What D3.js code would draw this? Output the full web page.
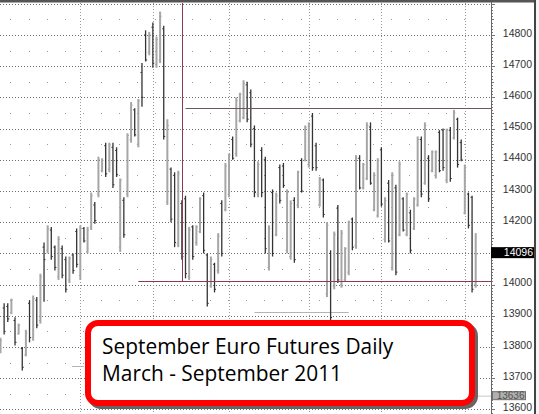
<!DOCTYPE html>
<html lang="en">
<head>
<meta charset="UTF-8">
<title>September Euro Futures Daily</title>
<script src="https://cdn.jsdelivr.net/npm/d3@7"></script>
<style>
  body{ margin:0; background:#fff; }
  svg{ display:block; }
  .grid-h{ stroke:#6e6e6e; stroke-dasharray:1,2; shape-rendering:crispEdges; }
  .grid-v{ stroke:#9a9a9a; stroke-dasharray:1,2; shape-rendering:crispEdges; }
  .half-dot{ fill:#9a9a9a; }
  .bar-up{ stroke:#a6a6a6; stroke-width:2; }
  .bar-down{ stroke:#333; stroke-width:1.3; }
  .axis-text{ font-family:"Liberation Sans", Arial, sans-serif; font-size:10.5px; fill:#333; }
  .title-text{ font-family:"Open Sans", sans-serif; font-size:20.9px; fill:#000; }
</style>
</head>
<body>
<div id="root"></div>
<script>
// daily bars, March - September 2011
const opens = [13790,13925,13930,13910,13885,13842,13795,13775,13940,13830,
  13950,13885,14120,14110,14175,14120,14025,14115,14080,14015,
  14095,14170,14030,14180,14105,14185,14255,14290,14365,14445,
  14370,14440,14430,14120,14270,14290,14465,14560,14450,14680,
  14800,14745,14825,14705,14720,14820,14265,14370,14350,14130,
  14260,14275,14025,14185,14135,14170,14285,14095,13995,14065,
  14045,14260,14240,14290,14465,14420,14525,14535,14640,14615,
  14500,14290,14430,14400,14055,14295,14160,14375,14380,14110,
  14090,14270,14255,14398,14400,14385,14540,14445,14255,14335,
  13970,14100,13995,14245,14000,14015,14040,14210,14125,14405,
  14310,14340,14505,14240,14220,14432,14145,14325,14055,14310,
  14160,14275,14160,14230,14180,14255,14465,14325,14405,14365,
  14350,14488,14495,14335,14495,14470,14530,14455,14230,14290,
  14280,14000]
const highs = [13830,13940,13940,13955,13895,13875,13800,13855,13950,13965,
  13960,14035,14135,14190,14185,14125,14155,14125,14090,14090,
  14100,14180,14190,14185,14185,14295,14265,14410,14405,14455,
  14455,14455,14440,14340,14280,14485,14585,14565,14595,14710,
  14815,14810,14840,14795,14875,14830,14530,14375,14360,14365,
  14270,14285,14185,14190,14190,14280,14295,14100,14090,14070,
  14165,14270,14390,14420,14475,14600,14615,14655,14650,14625,
  14510,14395,14440,14410,14190,14305,14295,14385,14390,14305,
  14270,14280,14365,14405,14510,14520,14550,14455,14345,14340,
  14200,14110,14170,14255,14175,14120,14205,14215,14415,14415,
  14390,14520,14520,14360,14405,14440,14280,14335,14360,14320,
  14395,14280,14295,14240,14280,14475,14475,14520,14415,14430,
  14430,14495,14500,14500,14505,14560,14535,14465,14385,14295,
  14285,14165]
const lows = [13780,13840,13880,13905,13805,13840,13725,13770,13815,13820,
  13860,13875,13945,14100,14080,14045,14015,14020,13975,14005,
  14035,14055,14015,14135,14100,14175,14195,14280,14360,14345,
  14360,14310,14345,14105,14150,14280,14455,14475,14440,14570,
  14715,14735,14695,14695,14710,14465,14255,14200,14120,14120,
  14080,14020,14015,14080,14125,14165,14100,13930,13990,13975,
  14035,14090,14235,14280,14400,14410,14520,14530,14520,14440,
  14280,14280,14280,14100,14045,14090,14155,14260,14310,14100,
  14080,14070,14245,14295,14395,14375,14365,14365,14250,14215,
  13960,13880,13985,14005,13990,14010,14030,14110,14115,14305,
  14305,14335,14320,14235,14215,14250,14135,14135,14045,14030,
  14155,14170,14155,14100,14175,14250,14280,14320,14265,14360,
  14340,14360,14365,14325,14330,14465,14375,14395,14225,14180,
  13975,13990]
const closes = [13820,13850,13890,13950,13815,13870,13735,13845,13830,13955,
  13870,14025,14080,14180,14090,14055,14145,14030,13985,14085,
  14045,14065,14180,14140,14175,14285,14205,14400,14398,14355,
  14448,14320,14352,14335,14160,14478,14575,14480,14588,14600,
  14720,14800,14710,14785,14860,14475,14510,14210,14135,14355,
  14090,14035,14175,14090,14185,14275,14110,13940,14080,13985,
  14155,14100,14380,14415,14405,14590,14610,14645,14530,14450,
  14295,14385,14295,14115,14180,14100,14285,14270,14318,14295,
  14260,14080,14360,14300,14505,14512,14375,14375,14338,14225,
  14190,13895,14160,14015,14165,14115,14200,14120,14405,14310,
  14385,14510,14325,14350,14398,14258,14270,14140,14350,14040,
  14385,14175,14290,14110,14275,14465,14290,14510,14275,14425,
  14425,14365,14375,14495,14340,14550,14385,14400,14375,14190,
  13985,14096]

const monthStarts = [22, 42, 63, 85, 105, 128]   // first bar of Apr..Sep
const priceTicks = [13600,13700,13800,13900,14000,14100,14200,14300,14400,14500,14600,14700,14800]
const lastPrice = 14096
const markPrice = 13636
const resistance = 14565     // upper horizontal line
const support = 14010        // maroon horizontal line
const supportStart = 38      // bar where the support line starts
const resistanceStart = 51
const markerBar = 50         // vertical maroon line
const lowLine = { price: 13912, from: 70, to: 96 }
const lowLine2 = { price: 13739, from: 19.7, to: 23 }
const titleLines = ["September Euro Futures Daily", "March - September 2011"]

let width = 539
let height = 414
let plotRight = 491
let plotTop = 3

const svg = d3.select("#root").append("svg").attr("width", width).attr("height", height)

const xScale = d3.scaleLinear().domain([0, highs.length - 1]).range([0.5, 475.7])
const yScale = d3.scaleLinear().domain([13600, 14800]).range([409.4, 35])

const renderGrid = () => {
  const g = svg.append("g")
  // faint dots at the half levels, one per week
  const halfLevels = priceTicks.map(d => d + 50).concat([13550])
  const weeks = d3.range(3, highs.length, 5)
  halfLevels.forEach(p => {
    g.selectAll(null).data(weeks).enter().append("rect").attr("class", "half-dot")
      .attr("x", d => Math.round(xScale(d)) - 1).attr("y", Math.round(yScale(p)))
      .attr("width", 1).attr("height", 1)
  })
  g.selectAll("line.grid-h").data(priceTicks.concat([14900])).enter().append("line")
    .attr("class", "grid-h")
    .attr("x1", 0).attr("x2", plotRight)
    .attr("y1", d => Math.round(yScale(d)) + 0.5).attr("y2", d => Math.round(yScale(d)) + 0.5)
  g.selectAll("line.grid-v").data(monthStarts).enter().append("line")
    .attr("class", "grid-v")
    .attr("x1", d => Math.round(xScale(d) - 0.3) + 0.5).attr("x2", d => Math.round(xScale(d) - 0.3) + 0.5)
    .attr("y1", plotTop).attr("y2", height)
}

const renderGuides = () => {
  const g = svg.append("g")
  g.append("line").attr("x1", 400).attr("x2", plotRight)
    .attr("y1", yScale(markPrice) - 2).attr("y2", yScale(markPrice) - 2)
    .attr("stroke", "#c8c8c8")
  ;[lowLine, lowLine2].forEach(l => {
    g.append("line").attr("x1", xScale(l.from)).attr("x2", xScale(l.to))
      .attr("y1", Math.round(yScale(l.price)) + 0.5).attr("y2", Math.round(yScale(l.price)) + 0.5)
      .attr("stroke", "#b4b4b4")
  })
}

const renderBars = () => {
  const data = highs.map((h, i) => ({ i, o: opens[i], h, l: lows[i], c: closes[i] }))
  const g = svg.append("g")
  const bars = g.selectAll("g.bar").data(data).enter().append("g")
    .attr("class", d => d.c >= d.o ? "bar-up" : "bar-down")
  bars.append("line")
    .attr("x1", d => xScale(d.i)).attr("x2", d => xScale(d.i))
    .attr("y1", d => yScale(d.h)).attr("y2", d => yScale(d.l))
  bars.append("line").style("stroke-width", 1)
    .attr("x1", d => xScale(d.i) - 1.5).attr("x2", d => xScale(d.i))
    .attr("y1", d => yScale(d.o)).attr("y2", d => yScale(d.o))
  bars.append("line").style("stroke-width", 1)
    .attr("x1", d => xScale(d.i)).attr("x2", d => xScale(d.i) + 1.5)
    .attr("y1", d => yScale(d.c)).attr("y2", d => yScale(d.c))
}

const renderLines = () => {
  const g = svg.append("g")
  const ySup = Math.round(yScale(support)) + 0.5
  g.append("line").attr("x1", xScale(supportStart)).attr("x2", plotRight)
    .attr("y1", ySup).attr("y2", ySup).attr("stroke", "#8a3a55")
  g.append("line").attr("x1", Math.round(xScale(markerBar)) + 0.5).attr("x2", Math.round(xScale(markerBar)) + 0.5)
    .attr("y1", plotTop).attr("y2", ySup).attr("stroke", "#8a3a55")
  const yRes = Math.round(yScale(resistance)) + 0.5
  g.append("line").attr("x1", xScale(resistanceStart)).attr("x2", plotRight)
    .attr("y1", yRes).attr("y2", yRes).attr("stroke", "#6b5560")
}

const renderAxis = () => {
  const g = svg.append("g")
  g.append("rect").attr("x", plotRight).attr("y", 0).attr("width", width - plotRight).attr("height", height).attr("fill", "#fff")
  // minor ticks every 10 points
  const minor = d3.range(13560, 14910, 10)
  g.selectAll("line.tk").data(minor).enter().append("line")
    .attr("x1", plotRight).attr("x2", d => plotRight + (d % 100 === 0 ? 4 : d % 50 === 0 ? 3 : 2))
    .attr("y1", d => Math.round(yScale(d)) + 0.5).attr("y2", d => Math.round(yScale(d)) + 0.5)
    .attr("stroke", "#777").attr("shape-rendering", "crispEdges")
  g.append("line").attr("x1", plotRight + 0.5).attr("x2", plotRight + 0.5).attr("y1", 0).attr("y2", height)
    .attr("stroke", "#666")
  g.selectAll("text.axis-text").data(priceTicks).enter().append("text")
    .attr("class", "axis-text").attr("x", 532).attr("y", d => yScale(d) - 2)
    .attr("dy", "0.35em").attr("text-anchor", "end").text(d => d)

  // last price tag
  const yl = yScale(lastPrice) - 2
  g.append("rect").attr("x", plotRight).attr("y", yl - 5.5).attr("width", 45).attr("height", 11).attr("fill", "#000")
  g.append("text").attr("class", "axis-text").style("fill", "#fff")
    .attr("x", 533).attr("y", yl).attr("dy", "0.35em").attr("text-anchor", "end").text(lastPrice)

  // marker price tag
  const ym = yScale(markPrice) - 2.5
  g.append("rect").attr("x", 492.5).attr("y", ym - 4).attr("width", 33).attr("height", 8)
    .attr("fill", "#b0b0b0").attr("stroke", "#707070")
  g.append("text").attr("class", "axis-text").style("fill", "#555").style("font-size", "10px")
    .attr("x", 524.5).attr("y", ym).attr("dy", "0.35em").attr("text-anchor", "end").text(markPrice)

  // frame
  svg.append("rect").attr("x", 0).attr("y", 0).attr("width", width).attr("height", 2.5).attr("fill", "#555")
  svg.append("line").attr("x1", 535).attr("x2", 535).attr("y1", 0).attr("y2", height).attr("stroke", "#444").attr("stroke-width", 2)
  svg.append("rect").attr("x", 536).attr("y", 0).attr("width", 3).attr("height", height).attr("fill", "#f4f4f4")
}

const renderTitle = () => {
  const g = svg.append("g")
  g.append("rect").attr("x", 91).attr("y", 326).attr("width", 384).attr("height", 80).attr("rx", 10)
    .attr("fill", "#666").attr("stroke", "#666").attr("stroke-width", 6)
  g.append("rect").attr("x", 88).attr("y", 323).attr("width", 384).attr("height", 80).attr("rx", 10)
    .attr("fill", "#fff").attr("stroke", "#ff0000").attr("stroke-width", 6)
  g.selectAll("text.title-text").data(titleLines).enter().append("text")
    .attr("class", "title-text").attr("x", 102).attr("y", (d, i) => 354 + i * 26.5).text(d => d)
}

renderGrid()
renderGuides()
renderBars()
renderLines()
renderAxis()
renderTitle()
</script>
</body>
</html>
